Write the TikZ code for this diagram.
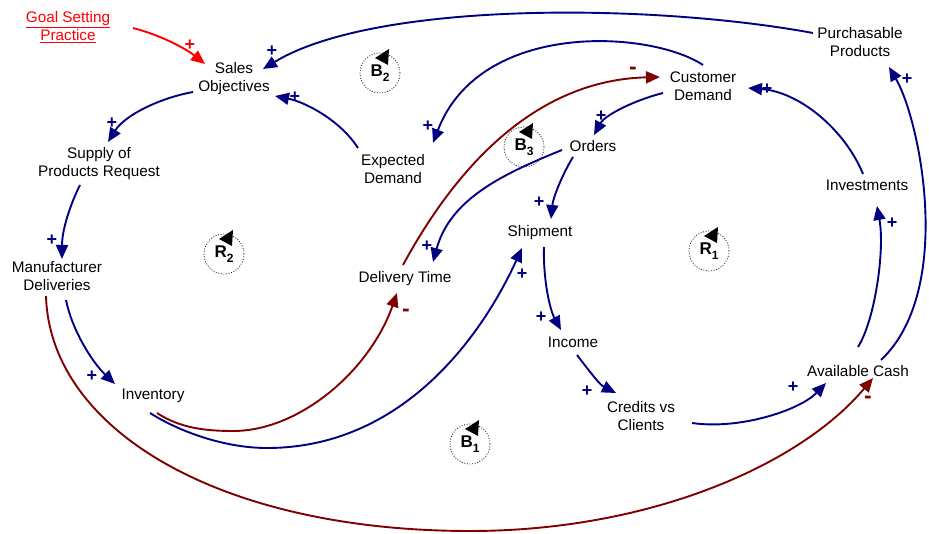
\documentclass[tikz,border=0pt]{standalone}
\usepackage{fontspec}
\setmainfont{Liberation Sans}
\usetikzlibrary{arrows.meta,calc}

\definecolor{linkblue}{RGB}{0,0,128}
\definecolor{linkred}{RGB}{128,0,0}
\definecolor{goalred}{RGB}{255,0,0}

\tikzset{
  var/.style={align=center, font=\fontsize{15.3}{18}\selectfont, inner sep=0pt, text=black},
  goalvar/.style={var, text=goalred},
  link/.style={line width=1.9pt, -{Triangle[length=14pt,width=12pt]}},
  poslink/.style={link, draw=linkblue},
  neglink/.style={link, draw=linkred},
  goallink/.style={link, draw=goalred},
  plus/.style={text=linkblue, font=\bfseries\fontsize{18}{18}\selectfont, inner sep=0pt},
  minus/.style={text=linkred, font=\bfseries\fontsize{23}{23}\selectfont, inner sep=0pt},
  goalplus/.style={plus, text=goalred},
  loopring/.style={circle, draw=black!85, line width=0.9pt, dash pattern=on 0.9pt off 1.7pt,
    minimum size=40pt, inner sep=0pt, font=\bfseries\fontsize{17}{17}\selectfont},
}
\newcommand{\looptag}[2]{#1\raisebox{-5pt}{\fontsize{12}{12}\selectfont\bfseries #2}}
\newcommand{\looparrow}[1]{\fill[black] ($(#1.center)+(-5,-15)$) -- ($(#1.center)+(9,-24)$) -- ($(#1.center)+(8,-8)$) -- cycle;}

\begin{document}
\begin{tikzpicture}[x=1pt,y=-1pt]
\useasboundingbox (0,0) rectangle (929,534);

% variables
\node[goalvar] (goal) at (68,27) {\underline{Goal Setting}\\\underline{Practice}};
\node[var] (sales) at (234,79) {Sales\\Objectives};
\node[var] (supply) at (99,164) {Supply of\\Products Request};
\node[var] (manuf) at (57,276) {Manufacturer\\Deliveries};
\node[var] (inv) at (153,396) {Inventory};
\node[var] (expd) at (393,169) {Expected\\Demand};
\node[var] (deliv) at (405,279) {Delivery Time};
\node[var] (cust) at (703,86) {Customer\\Demand};
\node[var] (orders) at (593,146) {Orders};
\node[var] (ship) at (540,233) {Shipment};
\node[var] (income) at (573,342) {Income};
\node[var] (credits) at (641,416) {Credits vs\\Clients};
\node[var] (cash) at (858,371) {Available Cash};
\node[var] (invest) at (867,185) {Investments};
\node[var] (purch) at (860,42) {Purchasable\\Products};

% loop markers
\node[loopring] (B2) at (380,73) {\looptag{B}{2}};
\node[loopring] (B3) at (524,147) {\looptag{B}{3}};
\node[loopring] (R2) at (224,254) {\looptag{R}{2}};
\node[loopring] (R1) at (709,251) {\looptag{R}{1}};
\node[loopring] (B1) at (470,444) {\looptag{B}{1}};
\looparrow{B2}
\looparrow{B3}
\looparrow{R2}
\looparrow{R1}
\looparrow{B1}

% causal links
\draw[goallink] ($(goal.center)+(65,1)$) .. controls (160,35) and (185,48) .. ($(sales.center)+(-29,-15)$);
\draw[poslink] ($(purch.center)+(-47,-9)$) .. controls (650,3) and (375,1) .. ($(sales.center)+(29,-10)$);
\draw[poslink] ($(expd.center)+(-35,-21)$) .. controls (340,120) and (305,102) .. ($(sales.center)+(41,17)$);
\draw[poslink] ($(sales.center)+(-41,13)$) .. controls (160,98) and (125,115) .. ($(supply.center)+(9,-22)$);
\draw[poslink] ($(supply.center)+(-19,21)$) .. controls (70,205) and (62,230) .. ($(manuf.center)+(5,-17)$);
\draw[poslink] ($(manuf.center)+(9,24)$) .. controls (72,330) and (92,362) .. ($(inv.center)+(-38,-12)$);

\coordinate (lowbend) at (470,531);
\draw[neglink] ($(manuf.center)+(-11,20)$) .. controls (50,430) and (220,531) .. (lowbend)
  .. controls (650,531) and (800,465) .. ($(cash.center)+(15,7)$);

\coordinate (invbend) at (233,431);
\draw[neglink] ($(inv.center)+(4,17)$) .. controls (180,428) and (205,431) .. (invbend)
  .. controls (300,431) and (370,370) .. ($(deliv.center)+(-8,14)$);

\coordinate (shipbend) at (267,448);
\draw[poslink] ($(inv.center)+(-3,17)$) .. controls (180,432) and (225,448) .. (shipbend)
  .. controls (400,448) and (480,340) .. ($(ship.center)+(-18,15)$);

\draw[neglink] ($(deliv.center)+(-2,-14)$) .. controls (460,160) and (540,80) .. ($(cust.center)+(-43,-9)$);
\draw[poslink] ($(cust.center)+(0,-21)$) .. controls (650,30) and (480,20) .. ($(expd.center)+(40,-26)$);
\draw[poslink] ($(cust.center)+(-40,7)$) .. controls (635,100) and (605,115) .. ($(orders.center)+(1,-11)$);
\draw[poslink] ($(orders.center)+(-31,4)$) .. controls (500,175) and (450,200) .. ($(deliv.center)+(28,-17)$);
\draw[poslink] ($(orders.center)+(-20,11)$) .. controls (562,175) and (553,198) .. ($(ship.center)+(11,-14)$);
\draw[poslink] ($(ship.center)+(4,14)$) .. controls (543,280) and (550,310) .. ($(income.center)+(-12,-12)$);
\draw[poslink] ($(income.center)+(4,13)$) .. controls (590,372) and (600,385) .. ($(credits.center)+(-25,-23)$);
\draw[poslink] ($(credits.center)+(51,7)$) .. controls (740,430) and (800,410) .. ($(cash.center)+(-32,12)$);
\draw[poslink] ($(cash.center)+(0,-24)$) .. controls (875,320) and (885,250) .. ($(invest.center)+(10,21)$);
\draw[poslink] ($(cash.center)+(23,-11)$) .. controls (955,290) and (920,120) .. ($(purch.center)+(29,25)$);
\draw[poslink] ($(invest.center)+(-4,-11)$) .. controls (845,130) and (800,92) .. ($(cust.center)+(45,2)$);

% link polarities
\node[goalplus] (p1) at (190,45) {+};
\node[plus] (p2) at (272,51) {+};
\node[plus] (p3) at (295,97) {+};
\node[plus] (p4) at (112,123) {+};
\node[plus] (p5) at (52,240) {+};
\node[plus] (p6) at (92,376) {+};
\node[minus] (m7) at (868,400) {-};
\node[minus] (m8) at (406,313) {-};
\node[plus] (p9) at (522,274) {+};
\node[minus] (m10) at (633,71) {-};
\node[plus] (p11) at (428,126) {+};
\node[plus] (p12) at (601,116) {+};
\node[plus] (p13) at (427,246) {+};
\node[plus] (p14) at (539,202) {+};
\node[plus] (p15) at (541,317) {+};
\node[plus] (p16) at (587,391) {+};
\node[plus] (p17) at (793,387) {+};
\node[plus] (p18) at (892,223) {+};
\node[plus] (p19) at (907,79) {+};
\node[plus] (p20) at (767,89) {+};
\end{tikzpicture}
\end{document}
